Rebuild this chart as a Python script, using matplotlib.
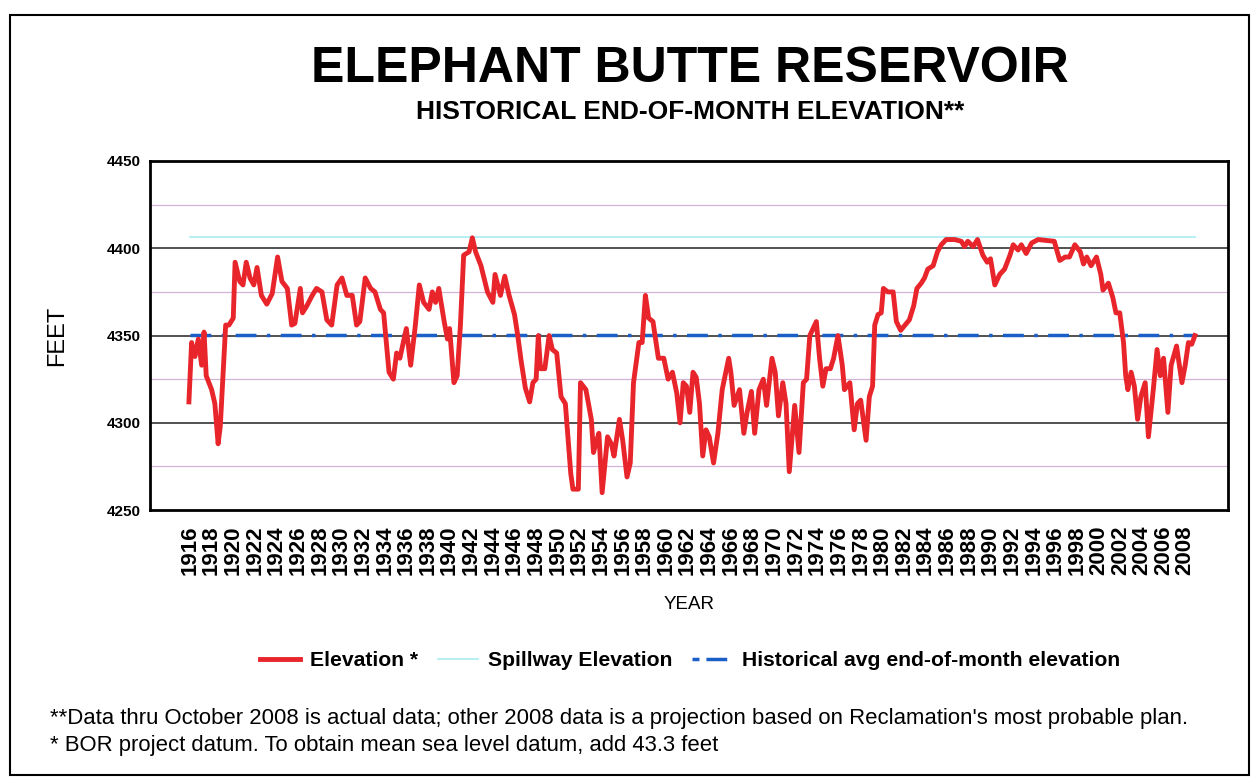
import matplotlib
matplotlib.use("Agg")
import matplotlib.pyplot as plt
from matplotlib.lines import Line2D
from matplotlib.patches import Rectangle

plt.rcParams['font.family'] = ['Liberation Sans', 'DejaVu Sans']

# ---- data ----
years = [1915.9, 1916.15, 1916.46, 1916.77, 1917.08, 1917.3, 1917.5, 1918.0, 1918.3, 1918.6,
         1918.8, 1919.1, 1919.3, 1919.6, 1920.0, 1920.17, 1920.6, 1920.9, 1921.2, 1921.55,
         1921.9, 1922.2, 1922.6, 1923.1, 1923.6, 1924.1, 1924.5, 1925.0, 1925.4, 1925.7,
         1926.2, 1926.4, 1926.8, 1927.3, 1927.7, 1928.2, 1928.65, 1929.1, 1929.6, 1930.05,
         1930.5, 1931.0, 1931.4, 1931.7, 1932.2, 1932.7, 1933.1, 1933.6, 1933.9, 1934.4,
         1934.8, 1935.1, 1935.4, 1936.0, 1936.4, 1936.8, 1937.2, 1937.6, 1938.1, 1938.4,
         1938.7, 1939.0, 1939.5, 1939.8, 1940.0, 1940.4, 1940.7, 1941.0, 1941.3, 1941.8,
         1942.1, 1942.4, 1942.9, 1943.5, 1944.0, 1944.2, 1944.7, 1945.1, 1945.5, 1946.0,
         1946.3, 1946.6, 1947.0, 1947.4, 1947.7, 1948.0, 1948.2, 1948.4, 1948.8, 1949.2,
         1949.5, 1949.9, 1950.3, 1950.7, 1951.2, 1951.4, 1951.9, 1952.1, 1952.6, 1953.1,
         1953.3, 1953.6, 1953.8, 1954.1, 1954.6, 1954.95, 1955.2, 1955.7, 1956.0, 1956.4,
         1956.7, 1957.0, 1957.5, 1957.8, 1958.1, 1958.4, 1958.8, 1959.3, 1959.8, 1960.2,
         1960.6, 1961.0, 1961.3, 1961.6, 1961.9, 1962.2, 1962.5, 1962.8, 1963.1, 1963.4,
         1963.7, 1964.0, 1964.4, 1964.8, 1965.2, 1965.8, 1966.0, 1966.3, 1966.8, 1967.2,
         1967.5, 1967.9, 1968.2, 1968.6, 1969.0, 1969.3, 1969.8, 1970.1, 1970.4, 1970.8,
         1971.1, 1971.4, 1971.9, 1972.3, 1972.7, 1973.0, 1973.3, 1973.9, 1974.2, 1974.5,
         1974.8, 1975.2, 1975.5, 1975.9, 1976.3, 1976.5, 1977.0, 1977.4, 1977.7, 1978.0,
         1978.5, 1978.8, 1979.1, 1979.3, 1979.6, 1979.9, 1980.1, 1980.5, 1981.0, 1981.3,
         1981.7, 1982.1, 1982.5, 1982.9, 1983.2, 1983.6, 1983.9, 1984.2, 1984.7, 1985.1,
         1985.45, 1985.9, 1986.7, 1987.3, 1987.6, 1987.9, 1988.4, 1988.8, 1989.3, 1989.7,
         1990.0, 1990.4, 1990.85, 1991.3, 1991.8, 1992.1, 1992.55, 1992.85, 1993.3, 1993.8,
         1994.4, 1995.9, 1996.4, 1996.9, 1997.3, 1997.8, 1998.3, 1998.6, 1998.9, 1999.3,
         1999.8, 2000.2, 2000.4, 2000.9, 2001.3, 2001.6, 2001.95, 2002.3, 2002.5, 2002.7,
         2003.0, 2003.3, 2003.6, 2003.9, 2004.3, 2004.6, 2005.05, 2005.4, 2005.7, 2006.0,
         2006.4, 2006.7, 2007.2, 2007.7, 2008.0, 2008.3, 2008.6, 2008.9]
elevation = [4312, 4346, 4338, 4348, 4333, 4352, 4327, 4319, 4311, 4288,
             4298, 4333, 4356, 4356, 4360, 4392, 4381, 4379, 4392, 4383,
             4379, 4389, 4373, 4368, 4374, 4395, 4381, 4377, 4356, 4357,
             4377, 4363, 4367, 4373, 4377, 4375, 4359, 4356, 4379, 4383,
             4373, 4373, 4356, 4358, 4383, 4377, 4375, 4365, 4363, 4329,
             4325, 4340, 4337, 4354, 4333, 4354, 4379, 4369, 4365, 4375,
             4369, 4377, 4358, 4348, 4354, 4323, 4327, 4356, 4396, 4398,
             4406, 4398, 4390, 4375, 4369, 4385, 4373, 4384, 4373, 4362,
             4350, 4336, 4320, 4312, 4323, 4325, 4350, 4331, 4331, 4350,
             4342, 4340, 4315, 4311, 4271, 4262, 4262, 4323, 4319, 4302,
             4283, 4290, 4294, 4260, 4292, 4288, 4281, 4302, 4290, 4269,
             4277, 4323, 4346, 4346, 4373, 4360, 4358, 4337, 4337, 4325,
             4329, 4317, 4300, 4323, 4321, 4306, 4329, 4326, 4311, 4281,
             4296, 4292, 4277, 4294, 4319, 4337, 4329, 4310, 4319, 4294,
             4306, 4318, 4294, 4319, 4325, 4310, 4337, 4329, 4304, 4323,
             4311, 4272, 4310, 4283, 4323, 4325, 4350, 4358, 4337, 4321,
             4331, 4331, 4337, 4350, 4333, 4319, 4323, 4296, 4311, 4313,
             4290, 4315, 4321, 4356, 4362, 4363, 4377, 4375, 4375, 4358,
             4353, 4356, 4359, 4367, 4377, 4380, 4383, 4388, 4390, 4398,
             4402, 4405, 4405, 4404, 4401, 4404, 4401, 4405, 4396, 4392,
             4394, 4379, 4385, 4388, 4396, 4402, 4399, 4402, 4397, 4403,
             4405, 4404, 4393, 4395, 4395, 4402, 4398, 4391, 4395, 4390,
             4395, 4385, 4376, 4380, 4372, 4363, 4363, 4346, 4327, 4319,
             4329, 4321, 4302, 4315, 4323, 4292, 4319, 4342, 4327, 4337,
             4306, 4333, 4344, 4323, 4333, 4346, 4345, 4350]
spill_years = [1916.0, 2008.9]
spillway = [4406.5, 4406.5]
avg_years = [1916.0, 2008.9]
hist_avg = [4350.5, 4350.5]
tick_years = list(range(1916, 2009, 2))

# ---- figure ----
fig = plt.figure(figsize=(12.57, 7.80), dpi=100)
fig.patches.append(Rectangle((0.008, 0.006), 0.986, 0.975, transform=fig.transFigure,
                             fill=False, edgecolor='black', linewidth=1.5))

ax = fig.add_axes([0.1193, 0.346, 0.858, 0.4476])
ax.set_xlim(1912.3, 2012.0)
ax.set_ylim(4250, 4450)

for y in [4275, 4325, 4375, 4425]:
    ax.axhline(y, color='#d2b2d6', linewidth=0.9, zorder=1)
for y in [4300, 4350, 4400]:
    ax.axhline(y, color='#333333', linewidth=1.2, zorder=1)

ax.plot(spill_years, spillway, color='#a8ecf2', linewidth=1.2, zorder=2)
ax.plot(avg_years, hist_avg, color='#1a5fc8', linewidth=2.5, dashes=(6, 3, 1, 3), zorder=3)
ax.plot(years, elevation, color='#e8252b', linewidth=3.5, zorder=4, solid_joinstyle='round')

for s in ax.spines.values():
    s.set_linewidth(2)
ax.set_yticks([4250, 4300, 4350, 4400, 4450])
ax.set_yticklabels(['4250', '4300', '4350', '4400', '4450'], fontsize=11, fontweight='bold')
ax.set_xticks(tick_years)
ax.set_xticklabels([str(y) for y in tick_years], rotation=90, fontsize=16, fontweight='bold')
ax.tick_params(axis='x', length=0, pad=11)
ax.tick_params(axis='y', length=0, pad=6.5)
ax.set_ylabel('FEET', fontsize=17, labelpad=28)
ax.set_xlabel('YEAR', fontsize=13.5, labelpad=15)

fig.text(0.549, 0.912, 'ELEPHANT BUTTE RESERVOIR', ha='center', va='center',
         fontsize=36, fontweight='bold')
fig.text(0.549, 0.857, 'HISTORICAL END-OF-MONTH ELEVATION**', ha='center', va='center',
         fontsize=19, fontweight='bold')

handles = [Line2D([], [], color='#e8252b', linewidth=3.5),
           Line2D([], [], color='#a8ecf2', linewidth=1.2),
           Line2D([], [], color='#1a5fc8', linewidth=2.5, dashes=(2, 2, 6, 2))]
fig.legend(handles, ['Elevation *', 'Spillway Elevation', 'Historical avg end-of-month elevation'],
           loc='center', bbox_to_anchor=(0.549, 0.153), ncol=3, frameon=False,
           prop={'size': 15.2, 'weight': 'bold'}, handlelength=1.9, columnspacing=0.95,
           handletextpad=0.45)

fig.text(0.04, 0.079, "**Data thru October 2008 is actual data; other 2008 data is a projection based on Reclamation's most probable plan.",
         fontsize=15.9, va='center')
fig.text(0.04, 0.044, "* BOR project datum. To obtain mean sea level datum, add 43.3 feet",
         fontsize=15.9, va='center')

fig.savefig('out.png', dpi=100)
